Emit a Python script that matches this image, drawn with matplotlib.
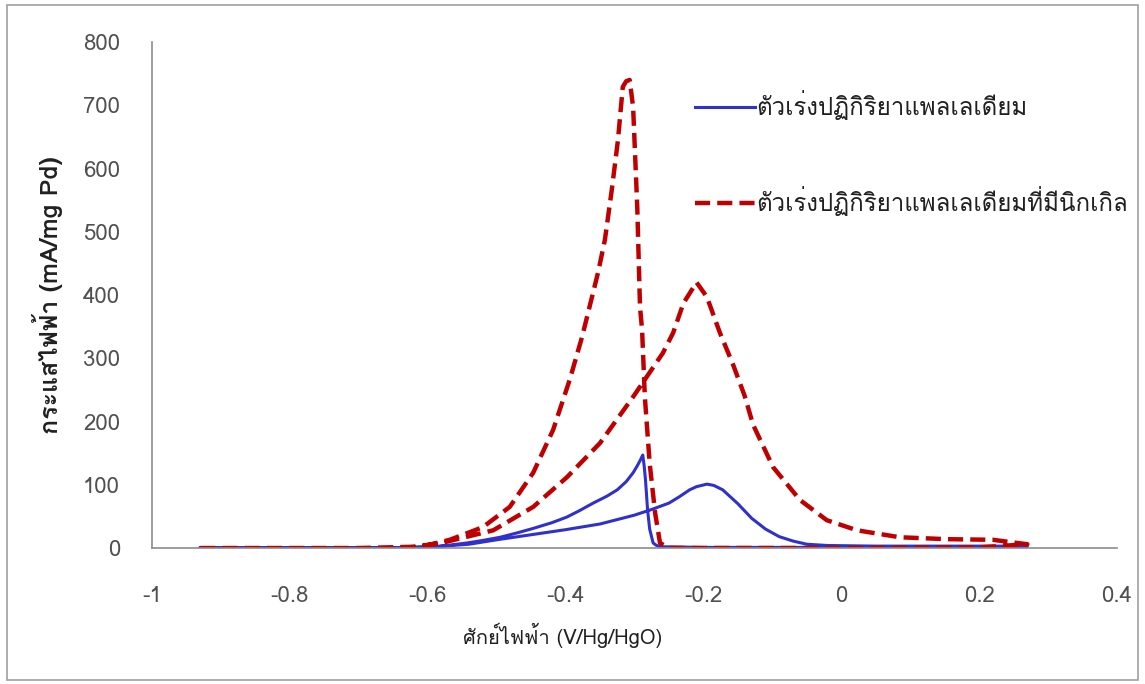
#cyclic voltammetry plot of Pd and PdNi catalysts

import matplotlib
matplotlib.use("Agg")
import matplotlib.pyplot as plt
from matplotlib import font_manager, ft2font
from matplotlib.patches import Rectangle

# Pd catalyst (forward scan then reverse scan)
pd_v = [-0.93, -0.80, -0.70, -0.62, -0.59, -0.54, -0.50, -0.45, -0.40, -0.35, -0.30, -0.275,
        -0.25, -0.235, -0.22, -0.21, -0.195, -0.185, -0.172, -0.15, -0.13, -0.11, -0.09, -0.07,
        -0.05, -0.02, 0.05, 0.15, 0.27,
        0.20, 0.10, 0.0, -0.10, -0.20, -0.26, -0.268, -0.273, -0.278, -0.281, -0.284, -0.286,
        -0.288, -0.292, -0.296, -0.302, -0.312, -0.325, -0.34, -0.36, -0.38, -0.398, -0.42,
        -0.447, -0.47, -0.495, -0.52, -0.543, -0.565, -0.59, -0.65, -0.80, -0.93]
pd_i = [0, 0, 0, 1, 2, 6, 13, 21, 29, 38, 52, 61,
        71, 81, 92, 97, 101, 99, 92, 70, 47, 30, 18, 11,
        6, 4, 3, 3, 3,
        1, 1, 1, 1, 1, 2, 4, 8, 30, 60, 107, 130,
        147, 138, 130, 119, 105, 92, 82, 71, 59, 49, 40,
        31, 24, 17, 12, 8, 5, 2, 0.5, 0, 0]

# Pd-Ni catalyst (forward scan then reverse scan)
pdni_v = [-0.93, -0.80, -0.70, -0.62, -0.58, -0.55, -0.505, -0.447, -0.398, -0.35, -0.302,
          -0.259, -0.244, -0.229, -0.21, -0.195, -0.176, -0.157, -0.14, -0.128, -0.099, -0.06,
          -0.021, 0.023, 0.085, 0.153, 0.22, 0.255, 0.27,
          0.20, 0.10, 0.0, -0.10, -0.20, -0.25, -0.263, -0.270, -0.278, -0.285, -0.289, -0.292,
          -0.296, -0.302, -0.307, -0.312, -0.317, -0.324, -0.333, -0.343, -0.353, -0.376,
          -0.394, -0.418, -0.447, -0.481, -0.520, -0.568, -0.61, -0.65]
pdni_i = [0, 0, 0, 2, 8, 16, 28, 65, 112, 166, 239,
          308, 340, 387, 420, 397, 340, 290, 240, 195, 128, 76,
          44, 28, 17, 14, 13, 8, 6,
          1, 0.5, 0, 0, 0, 0, 8, 55, 134, 239, 345, 381,
          539, 697, 740, 738, 729, 645, 566, 487, 435, 334,
          266, 187, 119, 65, 33, 13, 2, 0]

x_ticks = [-1, -0.8, -0.6, -0.4, -0.2, 0, 0.2, 0.4]
x_tick_labels = ["-1", "-0.8", "-0.6", "-0.4", "-0.2", "0", "0.2", "0.4"]
y_ticks = [0, 100, 200, 300, 400, 500, 600, 700, 800]

label_pd = "ตัวเร่งปฏิกิริยาแพลเลเดียม"
label_pdni = "ตัวเร่งปฏิกิริยาแพลเลเดียมที่มีนิกเกิล"
x_title = "ศักย์ไฟฟ้า (V/Hg/HgO)"
y_title = "กระแสไฟฟ้า (mA/mg Pd)"


def find_thai_font():
    for f in font_manager.fontManager.ttflist:
        try:
            cmap = ft2font.FT2Font(f.fname).get_charmap()
        except Exception:
            continue
        if 0x0E01 in cmap and 0x0E4C in cmap:
            return f.name
    return None


thai = find_thai_font()
families = [thai, "DejaVu Sans"] if thai else ["DejaVu Sans"]
plt.rcParams['font.family'] = families

tick_color = "#505050"
fsize = 16

figure = plt.figure(figsize=(11.45, 6.84), dpi=100)
figure.patches.append(Rectangle((0.006, 0.006), 0.988, 0.986, transform=figure.transFigure,
                                fill=False, edgecolor="#a0a0a0", linewidth=1.2))
ax = figure.add_axes([0.1328, 0.1988, 0.8427, 0.7398])

ax.plot(pd_v, pd_i, color="#3030cc", linewidth=2.2, label=label_pd)
ax.plot(pdni_v, pdni_i, color="#c00000", linewidth=3.2, linestyle=(0, (3.4, 1.6)),
        label=label_pdni)

ax.set_xlim(-1, 0.4)
ax.set_ylim(0, 800)
ax.set_xticks(x_ticks)
ax.set_xticklabels(x_tick_labels)
ax.set_yticks(y_ticks)
ax.tick_params(length=0, labelsize=fsize, labelcolor=tick_color)
ax.tick_params(axis="y", pad=23)
ax.tick_params(axis="x", pad=27)

for side in ["top", "right"]:
    ax.spines[side].set_visible(False)
for side in ["left", "bottom"]:
    ax.spines[side].set_color("#8c8c8c")
    ax.spines[side].set_linewidth(1.2)

ax.set_xlabel(x_title, fontsize=14.5, color="#202020")
ax.xaxis.set_label_coords(0.425, -0.148)
ax.set_ylabel(y_title, fontsize=18, fontweight="bold", color="#202020")
ax.yaxis.set_label_coords(-0.092, 0.5)

ax.legend(loc="upper left", bbox_to_anchor=(0.540, 0.947), frameon=False, fontsize=17.3,
          labelspacing=2.73, handlelength=2.5, handletextpad=0.08, labelcolor="#202020")

plt.savefig("out.png", dpi=100)
